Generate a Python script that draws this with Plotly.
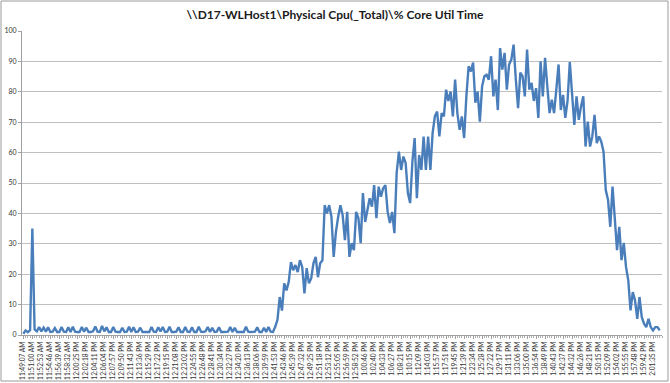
import plotly.graph_objects as go

title_text = "\\\\D17-WLHost1\\Physical Cpu(_Total)\\% Core Util Time"

# x-axis category labels (one label every 4 samples)
time_labels = [
    "11:49:07 AM", "11:51:00 AM", "11:52:53 AM", "11:54:46 AM", "11:56:39 AM", "11:58:32 AM",
    "12:00:25 PM", "12:02:18 PM", "12:04:11 PM", "12:06:04 PM", "12:07:57 PM", "12:09:50 PM",
    "12:11:43 PM", "12:13:36 PM", "12:15:29 PM", "12:17:22 PM", "12:19:15 PM", "12:21:08 PM",
    "12:23:02 PM", "12:24:55 PM", "12:26:48 PM", "12:28:41 PM", "12:30:34 PM", "12:32:27 PM",
    "12:34:20 PM", "12:36:13 PM", "12:38:06 PM", "12:39:59 PM", "12:41:53 PM", "12:43:46 PM",
    "12:45:39 PM", "12:47:32 PM", "12:49:25 PM", "12:51:18 PM", "12:53:12 PM", "12:55:05 PM",
    "12:56:59 PM", "12:58:52 PM", "1:00:46 PM", "1:02:40 PM", "1:04:33 PM", "1:06:27 PM",
    "1:08:21 PM", "1:10:15 PM", "1:12:09 PM", "1:14:03 PM", "1:15:57 PM", "1:17:51 PM",
    "1:19:45 PM", "1:21:39 PM", "1:23:34 PM", "1:25:28 PM", "1:27:22 PM", "1:29:17 PM",
    "1:31:11 PM", "1:33:06 PM", "1:35:00 PM", "1:36:54 PM", "1:38:49 PM", "1:40:43 PM",
    "1:42:37 PM", "1:44:32 PM", "1:46:26 PM", "1:48:21 PM", "1:50:15 PM", "1:52:09 PM",
    "1:54:02 PM", "1:55:55 PM", "1:57:48 PM", "1:59:42 PM", "2:01:35 PM",
]

# % core utilisation samples, in order
cpu_idle = [
    0.4, 1.5, 0.9, 1.6, 35, 1.8, 1.2, 2.6, 1.2, 2.4,
    1.1, 2.5, 1.0, 1.1, 2.3, 1.0, 1.0, 2.6, 1.1, 1.0,
    2.5, 1.0, 2.7, 1.1, 1.0, 1.0, 2.6, 1.1, 2.4, 1.0,
    1.0, 1.2, 2.8, 1.1, 1.0, 3.0, 1.2, 2.5, 1.0, 1.0,
    2.6, 1.1, 1.0, 1.0, 2.4, 1.0, 1.1, 2.7, 1.0, 2.5,
    1.0, 1.1, 2.4, 1.0, 1.0,
    1.1, 1.0, 2.6, 1.1, 1.0, 2.5, 1.2, 2.6, 1.0, 1.1,
    2.7, 1.0, 1.0, 1.1, 2.5, 1.0, 1.0, 2.6, 1.1, 1.0,
    2.5, 1.0, 1.0, 2.7, 1.1, 1.0, 1.2, 2.6, 1.0, 2.4,
    1.0, 1.1, 2.5, 1.0, 1.0, 1.0, 1.1, 2.6, 1.0, 2.4,
    1.0, 1.0, 1.1, 1.0, 2.7, 1.1, 1.0, 1.0, 1.1, 2.5,
    1.0, 1.0, 2.4, 1.0, 2.6, 1.1, 1.0, 2.7,
]
cpu_ramp = [
    5, 12.5, 8, 17, 14.7, 17.4, 24, 21.3, 23, 20.7, 24.6, 22.4, 13.7, 22, 17, 18.6,
    23.6, 25.7, 19, 23.6, 24.6, 42.7, 40, 42.7, 38.9, 25.7, 33.9, 38.9, 42.7, 39.4,
    31.2, 40.5, 25.7, 30.2, 27.9, 40.5, 38.4, 30.2, 46.7, 37.2, 41, 45, 42.2, 49.3,
    38.4, 48.8, 45.5, 48.3, 49.3, 40.5, 36.8, 40.5, 33.5, 53.3, 60.3, 54.3, 58.7,
    56.6, 46.7, 43.4, 57, 64.8, 45, 59.2, 54.3, 65.3, 54.3, 65.3, 54.3, 66.5, 71.9,
    73.5, 65.3, 73, 71.9, 80.7, 77, 80.1, 71.9, 84, 73, 67.5, 71.9, 64.8,
]
cpu_peak = [
    78.5, 88.4, 86.7, 89.6, 76.4, 80.1, 70.2, 81.8, 85.1, 85.6, 84, 91.7, 78.5, 84,
    74, 94.4, 87.3, 92.8, 80.7, 89, 90.6, 95.5, 84, 74.6, 86.3, 85.1, 78.5, 93.9,
    80.7, 82.9, 77, 81.2, 71.4, 90, 78.5, 91.2, 81.8, 73, 77.4, 73, 80.7, 89, 74,
    79, 71.4, 77, 89.8, 80.7, 69.1, 78.5, 70.8, 75.2,
]
cpu_decline = [
    78.5, 62, 70.2, 62, 65.3, 72.4, 63.1, 65.3, 63.6, 60.3, 47.7, 44.4, 35.6, 48.8,
    38.9, 27.9, 35.6, 24.6, 30.3, 22.4, 18, 8.1, 14.1, 11.4, 5.3, 12.5, 5.9, 3.7,
    2.6, 5.3, 2.6, 1.5, 2.6, 2.6, 1.5,
]

cpu_values = cpu_idle + cpu_ramp + cpu_peak + cpu_decline
sample_index = list(range(len(cpu_values)))
label_step = 4
label_positions = [i * label_step for i in range(len(time_labels))]

y_ticks = list(range(0, 101, 10))

W, H = 670, 383
ml, mr, mt, mb = 22, 8, 31, 48
pw, ph = W - ml - mr, H - mt - mb

fig = go.Figure()
fig.add_trace(go.Scatter(
    x=sample_index, y=cpu_values, mode="lines",
    line=dict(color="#4A7EBB", width=2.4),
    hoverinfo="skip", showlegend=False,
))

fig.update_layout(
    width=W, height=H,
    margin=dict(l=ml, r=mr, t=mt, b=mb, autoexpand=False),
    paper_bgcolor="white", plot_bgcolor="white",
    font=dict(family="Lato, Liberation Sans, sans-serif", color="#333333"),
    title=dict(text="<b>" + title_text + "</b>", x=0.5, xanchor="center",
               y=1 - 15 / H, yanchor="middle",
               font=dict(size=12, color="#1a1a1a", family="Lato, Liberation Sans, sans-serif")),
    showlegend=False,
)

fig.update_xaxes(
    range=[-0.6, 284], automargin=False,
    tickmode="array", tickvals=label_positions, ticktext=time_labels,
    tickangle=-90, tickfont=dict(size=6.6, color="#333333"),
    ticks="outside", ticklen=3, tickcolor="#A0A0A0",
    minor=dict(tickmode="linear", tick0=0, dtick=1, ticks="outside", ticklen=2,
               tickcolor="#B0B0B0", showgrid=False),
    showgrid=False, zeroline=False,
    showline=True, linecolor="#A0A0A0", linewidth=1,
    fixedrange=True,
)
fig.update_yaxes(
    range=[0, 100], automargin=False,
    tickmode="array", tickvals=y_ticks, ticktext=[str(v) for v in y_ticks],
    tickfont=dict(size=7, color="#333333"),
    ticks="outside", ticklen=3, tickcolor="#A0A0A0",
    showgrid=True, gridcolor="#C0C0C0", gridwidth=1,
    zeroline=False, showline=True, linecolor="#A0A0A0", linewidth=1,
    fixedrange=True,
)

# outer chart-area border
fig.add_shape(
    type="rect", xref="paper", yref="paper",
    x0=(1 - ml) / pw, x1=(W - 2 - ml) / pw,
    y0=(H - mb - (H - 2)) / ph, y1=(H - mb - 1) / ph,
    line=dict(color="#9A9A9A", width=1), fillcolor="rgba(0,0,0,0)", layer="below",
)

fig.write_html(
    "out.html",
    config={"displayModeBar": False},
    post_script="document.body.style.margin='0';document.body.style.padding='0';",
)
